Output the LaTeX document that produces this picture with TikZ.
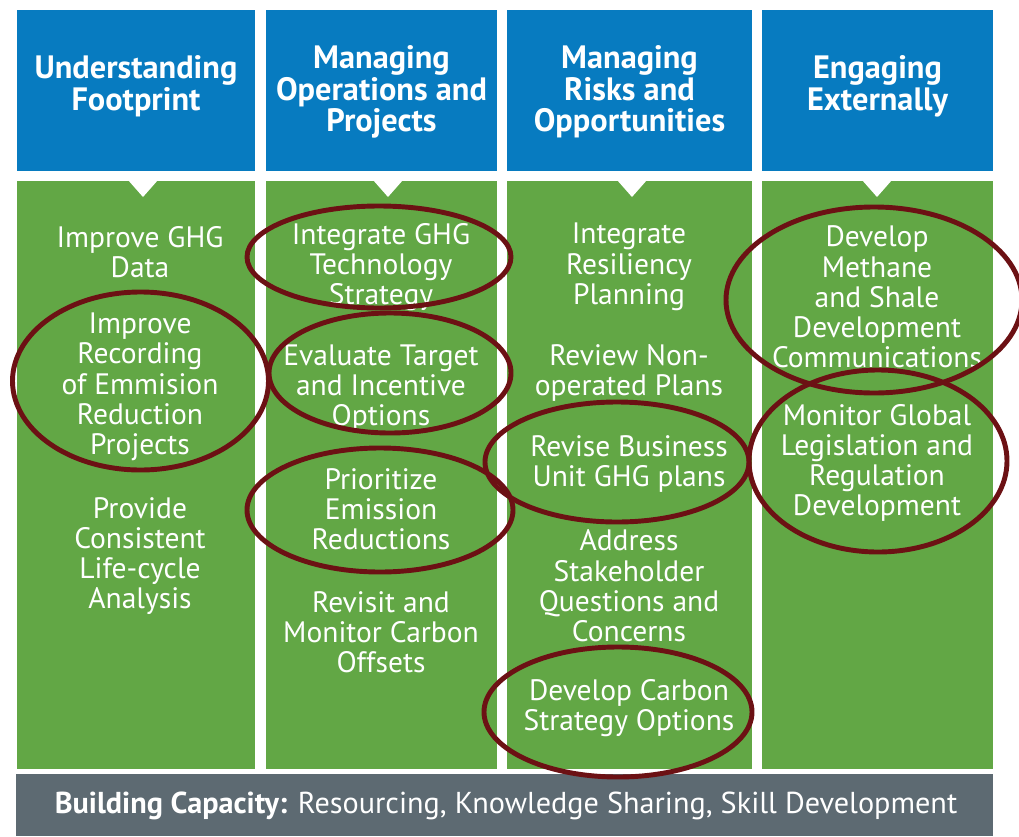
\documentclass[tikz,border=0pt]{standalone}
\usepackage{fontspec}
\setmainfont{PT Sans}
\usetikzlibrary{positioning}
\definecolor{HeadBlue}{RGB}{7,123,192}
\definecolor{PillarGreen}{RGB}{98,167,69}
\definecolor{BaseGray}{RGB}{93,106,114}
\definecolor{RingRed}{RGB}{108,17,20}
\tikzset{
  head/.style={text=white,align=center,font=\fontsize{23}{22.5}\selectfont\bfseries},
  item/.style={text=white,align=center,font=\fontsize{21}{21.5}\selectfont},
  ring/.style={draw=RingRed,line width=3.5pt}
}

\begin{document}
\begin{tikzpicture}[x=0.025cm,y=-0.025cm]
\useasboundingbox (0,0) rectangle (1019,836);
% four pillars: header, green body, notch
\foreach \l/\r/\nx/\hy/\n/\t in {17/255/143/86/hfoot/{Understanding\\Footprint},266/497/388/92/hops/{Managing\\Operations and\\Projects},507/752/632/92/hrisk/{Managing\\Risks and\\Opportunities},762/993/877/86/hext/{Engaging\\Externally}}{
  \fill[HeadBlue] (\l,10) rectangle (\r,171);
  \fill[PillarGreen] (\l,181) rectangle (\r,769);
  \fill[white] (\nx-15,180) -- (\nx+15,180) -- (\nx,197) -- cycle;
  \node[head] (\n) at ({(\l+\r)/2},\hy) {\t};
}
% pillar 1
\node[item] (ghgdata) at (140,252) {Improve GHG\\Data};
\node[item] (record) at (140,387) {Improve\\Recording\\of Emmision\\Reduction\\Projects};
\node[item] (lca) at (140,556) {Provide\\Consistent\\Life-cycle\\Analysis};
% pillar 2
\node[item] (techstrat) at (381,267) {Integrate GHG\\Technology\\Strategy};
\node[item] (target) at (381,388) {Evaluate Target\\and Incentive\\Options};
\node[item] (prio) at (381,509) {Prioritize\\Emission\\Reductions};
\node[item] (offsets) at (381,632) {Revisit and\\Monitor Carbon\\Offsets};
% pillar 3
\node[item] (resil) at (629,267) {Integrate\\Resiliency\\Planning};
\node[item] (nonop) at (629,373) {Review Non-\\operated Plans};
\node[item] (buplans) at (629,464) {Revise Business\\Unit GHG plans};
\node[item] (stake) at (629,586) {Address\\Stakeholder\\Questions and\\Concerns};
\node[item] (carbon) at (629,708) {Develop Carbon\\Strategy Options};
% pillar 4
\node[item] (methane) at (877,297) {Develop\\Methane\\and Shale\\Development\\Communications};
\node[item] (legis) at (877,463) {Monitor Global\\Legislation and\\Regulation\\Development};
% base bar
\fill[BaseGray] (16,774) rectangle (993,836);
\node[item,font=\fontsize{21.5}{22}\selectfont] (base) at (506,806) {\textbf{Building Capacity:} Resourcing, Knowledge Sharing, Skill Development};
% highlight rings
\draw[ring] (140.5,381) ellipse [x radius=128, y radius=89];
\draw[ring] (379,257) ellipse [x radius=132, y radius=51];
\draw[ring] (390,373) ellipse [x radius=121, y radius=60];
\draw[ring] (380,510) ellipse [x radius=133, y radius=62];
\draw[ring] (617,462) ellipse [x radius=132, y radius=60];
\draw[ring] (618,712) ellipse [x radius=134, y radius=65];
\draw[ring] (874,300) ellipse [x radius=148, y radius=93];
\draw[ring] (878,461) ellipse [x radius=129, y radius=91];
\end{tikzpicture}
\end{document}
